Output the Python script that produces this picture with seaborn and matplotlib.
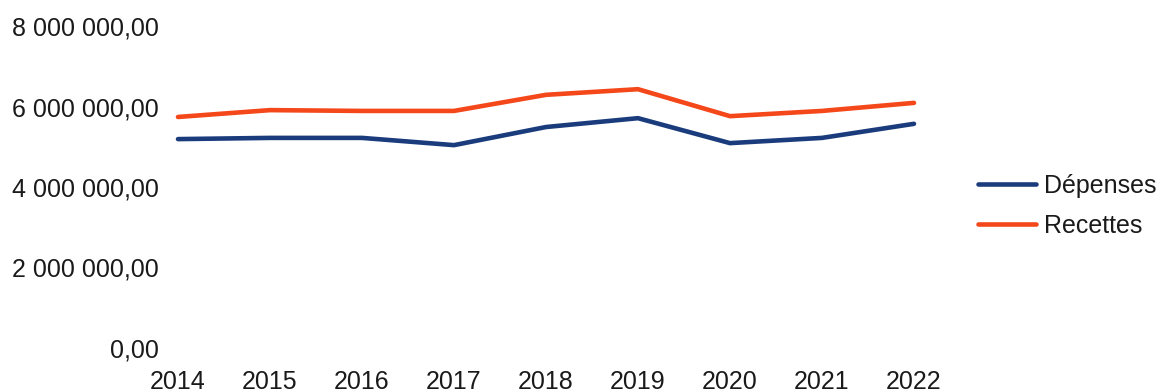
import matplotlib
matplotlib.use("Agg")
import matplotlib.pyplot as plt
import seaborn as sns
import pandas as pd
from matplotlib.ticker import FuncFormatter
from matplotlib.lines import Line2D

years = [2014, 2015, 2016, 2017, 2018, 2019, 2020, 2021, 2022]
depenses = [5190000, 5220000, 5220000, 5040000, 5490000, 5710000, 5090000, 5220000, 5570000]
recettes = [5740000, 5910000, 5890000, 5890000, 6290000, 6430000, 5760000, 5890000, 6090000]
series_names = ["Dépenses", "Recettes"]
colors = ["#1b3c7c", "#f4471a"]
yticks = [0, 2000000, 4000000, 6000000, 8000000]

df = pd.DataFrame({
    "Année": years * 2,
    "Valeur": depenses + recettes,
    "Série": [series_names[0]] * len(years) + [series_names[1]] * len(years),
})

sns.set_style("white")
plt.rcParams["font.family"] = ["Liberation Sans", "DejaVu Sans"]

fig = plt.figure(figsize=(11.6, 3.92), dpi=100)
ax = fig.add_axes([170 / 1160, 44 / 392, (922 - 170) / 1160, (348 - 26) / 392])

sns.lineplot(data=df, x="Année", y="Valeur", hue="Série", palette=colors,
             linewidth=3.3, ax=ax, legend=False)

ax.set_xlim(2014 - 8 / 92, 2022 + 8 / 92)
ax.set_ylim(0, 8000000)
ax.set_yticks(yticks)
ax.set_xticks(years)
ax.set_xticklabels([str(y) for y in years])


def fmt(v, pos):
    s = f"{v:,.2f}"
    return s.replace(",", " ").replace(".", ",")


ax.yaxis.set_major_formatter(FuncFormatter(fmt))
ax.tick_params(axis="y", length=0, pad=8, labelsize=18, colors="#1a1a1a")
ax.tick_params(axis="x", length=0, pad=16, labelsize=18, colors="#1a1a1a")
ax.set_xlabel("")
ax.set_ylabel("")
for s in ax.spines.values():
    s.set_visible(False)
ax.grid(False)

handles = [Line2D([0], [0], color=c, lw=3.3) for c in colors]
fig.legend(handles, series_names, loc="center left",
           bbox_to_anchor=(955 / 1160, 1 - 206 / 392), frameon=False,
           fontsize=18, handlelength=2.35, handletextpad=0.3,
           labelspacing=0.65, labelcolor="#1a1a1a")

fig.savefig("out.png", dpi=100, facecolor="white")
